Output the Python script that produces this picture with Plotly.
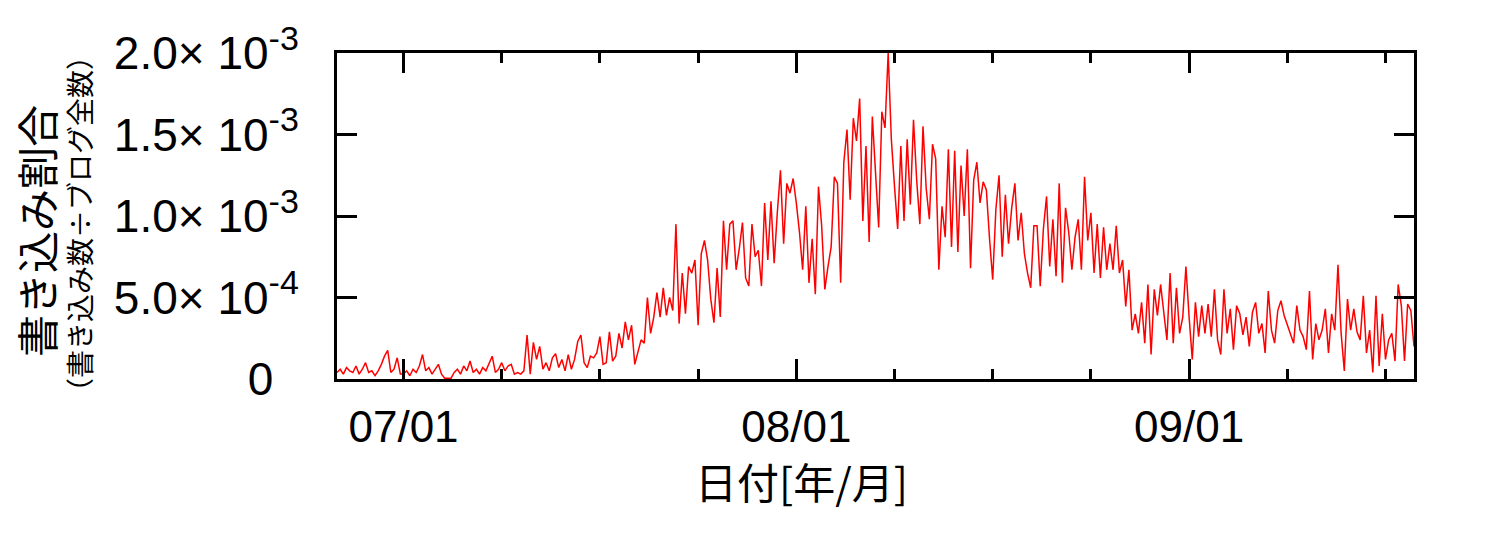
import pandas as pd
import plotly.graph_objects as go

# ---- data (write ratio, in units of 1e-4), one value every 6 hours ----
start_time = "2006-06-25 18:00"
step = "6h"
value_unit = 1e-4

june_vals = [0.4,
    0.6, 0.3, 0.7, 0.5,
    0.4, 0.8, 0.3, 0.6,
    1.0, 0.4, 0.5, 0.2,
    0.5, 0.9, 1.4, 1.75,
    0.4, 0.6, 1.3, 0.3]

july_vals = [
    0.3, 0.5, 0.2, 0.6,
    0.4, 0.8, 1.5, 0.5,
    0.7, 0.3, 0.6, 0.9,
    0.3, 0.05, 0.05, 0.05,
    0.4, 0.6, 0.3, 0.8,
    0.5, 1.1, 0.4, 0.6,
    0.3, 0.7, 0.5, 0.9,
    1.4, 0.4, 0.6, 1.0,
    0.5, 0.8, 0.9, 0.3,
    0.4, 0.3, 0.5, 2.7,
    0.3, 2.25, 1.2, 2.0,
    0.6, 1.0, 0.5, 1.3,
    1.55, 0.7, 1.2, 0.5,
    1.5, 0.6, 1.2, 2.3,
    2.7, 1.0, 0.7, 1.4,
    1.3, 1.6, 2.6, 0.9,
    1.0, 2.9, 1.1, 1.4,
    2.8, 1.9, 3.5, 2.4,
    3.3, 0.9, 1.6, 2.4,
    2.2, 5.0, 2.8, 3.8,
    5.3, 3.8, 5.6, 3.9,
    5.0, 4.2, 9.5, 3.4,
    6.5, 4.0, 6.9, 6.5,
    7.3, 3.3, 7.7, 8.5,
    7.3, 4.9, 3.45, 6.8,
    3.8, 9.7, 6.7, 9.5,
    9.7, 6.7, 8.0, 9.6,
    6.2, 5.7, 9.5, 7.5,
    7.9, 5.7, 10.8, 7.3,
    10.9, 7.1, 10.2, 12.8,
    8.3, 12.0, 11.4, 12.3]

aug_vals = [
    10.8, 9.0, 6.7, 10.6,
    5.9, 8.6, 5.2, 11.8,
    9.4, 5.5, 6.9, 8.1,
    12.4, 12.0, 5.9, 13.3,
    15.3, 11.0, 16.0, 14.6,
    17.2, 9.7, 14.3, 8.4,
    16.1, 12.6, 9.3, 16.4,
    15.4, 20.0, 14.7, 11.8,
    9.2, 14.3, 9.7, 14.7,
    10.7, 15.9, 12.2, 9.5,
    15.5, 11.7, 9.8, 14.4,
    13.5, 6.7, 10.6, 8.7,
    14.1, 8.1, 14.0, 7.8,
    13.1, 10.0, 14.1, 6.8,
    12.2, 13.3, 10.8, 12.1,
    11.6, 8.6, 6.1, 10.4,
    12.5, 7.5, 11.3, 8.3,
    10.5, 12.0, 8.5, 10.2,
    7.7, 6.5, 5.6, 9.4,
    9.4, 5.7, 9.2, 11.2,
    6.9, 9.8, 6.3, 12.0,
    5.9, 10.5, 9.0, 6.7,
    8.7, 9.8, 6.7, 12.4,
    8.5, 10.2, 6.5, 9.5,
    6.2, 9.3, 6.7, 8.3,
    6.7, 9.4, 6.5, 7.3,
    4.45, 6.7, 3.0, 4.0,
    2.8, 4.7, 2.2, 5.8,
    1.5, 5.5, 3.9, 5.8,
    3.9, 2.4, 6.5, 2.2,
    5.6, 2.8, 3.8, 6.9]

sep_vals = [
    3.8, 1.2, 4.7, 2.6,
    4.5, 2.8, 4.6, 2.6,
    5.5, 2.4, 1.5, 5.5,
    2.8, 4.3, 1.8, 4.5,
    4.0, 2.7, 3.8, 2.0,
    4.1, 4.7, 2.8, 3.4,
    1.6, 5.4, 3.0, 2.2,
    4.2, 4.8, 3.9, 3.3,
    2.8, 2.2, 4.5, 3.0,
    2.6, 1.8, 5.4, 1.2,
    3.4, 2.4, 3.0, 4.3,
    1.6, 4.0, 3.0, 7.0,
    2.8, 0.5, 4.9, 3.0,
    4.3, 2.9, 2.4, 5.1,
    1.6, 3.0, 0.4, 5.1,
    0.8, 4.0, 1.2, 2.4,
    2.8, 1.1, 5.8, 4.5,
    1.1, 4.6, 4.2, 2.0]

# ---- axis ticks ----
x_tick_dates = ["2006-07-01", "2006-08-01", "2006-09-01"]
x_tick_labels = ["07/01", "08/01", "09/01"]
minor_step_days = 7.75

y_tick_vals = [0, 5e-4, 1e-3, 1.5e-3, 2e-3]
y_mantissas = ["5.0", "1.0", "1.5", "2.0"]
y_exponents = ["-4", "-3", "-3", "-3"]

x_title = "日付[年/月]"
y_title_main = "書き込み割合"
y_title_sub = "（書き込み数÷ブログ全数）"

# ---- build ----
values = [v * value_unit for v in june_vals + july_vals + aug_vals + sep_vals]
times = pd.date_range(start_time, periods=len(values), freq=step)

y_tick_labels = ["0\u00a0\u00a0"] + [
    f"{m}\u00d7 10<sup><span style='font-size:34px'>{e}</span></sup>"
    for m, e in zip(y_mantissas, y_exponents)]

t0 = pd.Timestamp(x_tick_dates[0])
majors = [pd.Timestamp(d) for d in x_tick_dates]
minor_ticks = []
for k in range(-2, 14):
    t = t0 + pd.Timedelta(days=minor_step_days * k)
    if times[0] <= t <= times[-1] and all(abs((t - m).total_seconds()) > 3600 for m in majors):
        minor_ticks.append(t.strftime("%Y-%m-%d %H:%M"))

LATIN = "Liberation Sans, Arial, Helvetica, sans-serif"
CJK = "Noto Sans CJK JP, sans-serif"

fig = go.Figure()
fig.add_trace(go.Scatter(x=times, y=values, mode="lines",
                         line=dict(color="#ff0000", width=1.5),
                         hoverinfo="skip", showlegend=False))

axis_common = dict(showline=True, linecolor="black", linewidth=3, mirror="ticks",
                   ticks="inside", ticklen=20, tickwidth=2.5, tickcolor="black",
                   showgrid=False, zeroline=False, automargin=False)

fig.update_xaxes(type="date", range=[times[0], times[-1]],
                 tickmode="array", tickvals=x_tick_dates, ticktext=x_tick_labels,
                 ticklabelstandoff=7,
                 tickfont=dict(family=LATIN, size=44, color="black"),
                 minor=dict(tickmode="array", tickvals=minor_ticks, ticks="inside",
                            ticklen=10, tickwidth=2.5, tickcolor="black", showgrid=False),
                 **axis_common)
fig.update_yaxes(range=[0, 2e-3], tickmode="array", tickvals=y_tick_vals,
                 ticktext=y_tick_labels, ticklabelstandoff=26,
                 tickfont=dict(family=LATIN, size=46, color="black"),
                 **axis_common)

# the page body adds an 8 px offset; compensate so the plot lands where the reference has it
OFF = 8
W, H = 1501 - OFF, 536 - OFF
L, R, T, B = 337 - OFF, 87, 53 - OFF, 157
pw, ph = W - L - R, H - T - B

def px_to_paper(px, py):
    return (px - OFF - L) / pw, (H - B - (py - OFF)) / ph

ax, ay = px_to_paper(801, 480)
fig.add_annotation(text=x_title, x=ax, y=ay, xref="paper", yref="paper",
                   showarrow=False, xanchor="center", yanchor="middle",
                   font=dict(family=CJK, size=42, color="black"))
ax, ay = px_to_paper(35, 231)
fig.add_annotation(text=y_title_main, x=ax, y=ay, xref="paper", yref="paper",
                   showarrow=False, xanchor="center", yanchor="middle", textangle=-90,
                   font=dict(family=CJK, size=42, color="black"))
ax, ay = px_to_paper(79, 224)
fig.add_annotation(text=y_title_sub, x=ax, y=ay, xref="paper", yref="paper",
                   showarrow=False, xanchor="center", yanchor="middle", textangle=-90,
                   font=dict(family=CJK, size=28, color="black"))

fig.update_layout(width=W, height=H, margin=dict(l=L, r=R, t=T, b=B),
                  paper_bgcolor="white", plot_bgcolor="white", showlegend=False)

fig.write_html("out.html")
